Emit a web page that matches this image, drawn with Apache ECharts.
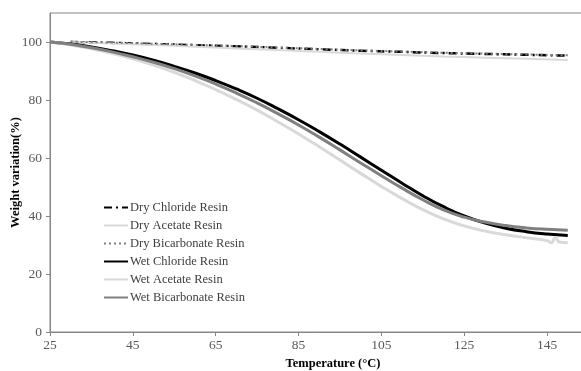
<!DOCTYPE html>
<html>
<head>
<meta charset="utf-8">
<script src="https://cdn.jsdelivr.net/npm/echarts@6/dist/echarts.min.js"></script>
<style>
  html, body { margin: 0; padding: 0; background: #fff; }
  #myEcharts { width: 581px; height: 371px; }
</style>
</head>
<body>
<div id="myEcharts"></div>
<script>
// dry samples (temperature, weight %)
const dryTemps = [30, 40, 50, 60, 70, 80, 90, 100, 110, 120, 130, 140, 150];
const dryChloride = [100, 99.7, 99.3, 98.9, 98.5, 98.0, 97.5, 97.0, 96.6, 96.2, 95.9, 95.6, 95.3];
const dryAcetate = [100, 99.5, 99.0, 98.4, 97.8, 97.2, 96.6, 96.0, 95.5, 95.0, 94.6, 94.2, 93.8];
const dryBicarbonate = [100.1, 99.8, 99.4, 99.0, 98.6, 98.1, 97.6, 97.1, 96.7, 96.3, 96.0, 95.7, 95.4];

// wet samples
const wetTemps = [25, 30, 35, 40, 45, 50, 55, 60, 65, 70, 75, 80, 85, 90, 95, 100, 105, 110, 115, 120, 125, 130, 135, 140, 145, 150];
const wetChloride = [100, 99.3, 98.3, 97, 95.5, 93.7, 91.6, 89.3, 86.7, 83.8, 80.6, 77, 73.2, 69.1, 64.8, 60.3, 55.8, 51.3, 47, 43.2, 40, 37.6, 35.8, 34.6, 33.8, 33.3];
const wetBicarbonate = [100, 99.2, 98.0, 96.6, 94.9, 93.0, 90.8, 88.3, 85.5, 82.4, 79.0, 75.3, 71.4, 67.2, 62.8, 58.3, 53.9, 49.6, 45.6, 42.1, 39.6, 37.9, 36.7, 35.9, 35.4, 35.1];
const wetAcetateTemps = [25, 30, 35, 40, 45, 50, 55, 60, 65, 70, 75, 80, 85, 90, 95, 100, 105, 110, 115, 120, 125, 130, 135, 140, 145, 146, 147, 148, 150];
const wetAcetate = [100, 99, 97.7, 96.1, 94.2, 92, 89.5, 86.7, 83.6, 80.2, 76.5, 72.5, 68.3, 63.9, 59.3, 54.7, 50.2, 46.0, 42.2, 39.0, 36.6, 34.8, 33.5, 32.5, 31.5, 30.8, 32.6, 31.0, 30.8];

const xTicks = { min: 25, max: 154.4, interval: 20 };
const yTicks = { min: 0, max: 110, interval: 20 };

function pairs(xs, ys) {
  return xs.map((x, i) => [x, ys[i]]);
}

const axisGrey = '#868686';
const labelGrey = '#595959';
const serif = '"Liberation Serif", "DejaVu Serif", serif';

function lineSeries(name, data, color, width, type) {
  return {
    name,
    type: 'line',
    symbol: 'none',
    showSymbol: false,
    smooth: true,
    data,
    itemStyle: { color },
    lineStyle: { color, width, type },
  };
}

const myEcharts = echarts.init(document.getElementById('myEcharts'));
myEcharts.setOption({
  animation: false,
  backgroundColor: '#fff',
  grid: {
    show: true,
    borderWidth: 1,
    borderColor: axisGrey,
    outerBoundsMode: 'none',
    containLabel: false,
    left: 50,
    top: 13,
    right: -5,
    bottom: 39,
  },
  legend: {
    orient: 'vertical',
    left: 103,
    top: 201,
    padding: 0,
    itemWidth: 24,
    itemHeight: 12,
    itemGap: 5,
    itemStyle: { opacity: 0 },
    textStyle: { fontFamily: serif, fontSize: 12.5, color: '#404040', padding: [0, 0, 0, -3] },
    data: ['Dry Chloride Resin', 'Dry Acetate Resin', 'Dry Bicarbonate Resin',
      'Wet Chloride Resin', 'Wet Acetate Resin', 'Wet Bicarbonate Resin'],
  },
  xAxis: {
    type: 'value',
    ...xTicks,
    name: 'Temperature (°C)',
    nameLocation: 'middle',
    nameGap: 25,
    nameTextStyle: { fontFamily: serif, fontSize: 12.5, fontWeight: 'bold', color: '#000', padding: [0, 0, 0, 30] },
    axisLine: { show: true, lineStyle: { color: axisGrey, width: 1 } },
    axisTick: { show: true, length: 4, lineStyle: { color: axisGrey } },
    axisLabel: { fontFamily: serif, fontSize: 13.5, color: labelGrey, margin: 6, showMaxLabel: false },
    splitLine: { show: false },
  },
  yAxis: {
    type: 'value',
    ...yTicks,
    name: 'Weight variation(%)',
    nameLocation: 'middle',
    nameGap: 28,
    nameMoveOverlap: false,
    nameTextStyle: { fontFamily: serif, fontSize: 12.5, fontWeight: 'bold', color: '#000' },
    axisLine: { show: true, lineStyle: { color: axisGrey, width: 1 } },
    axisTick: { show: true, length: 4, lineStyle: { color: axisGrey } },
    axisLabel: { fontFamily: serif, fontSize: 13.5, color: labelGrey, margin: 8, showMaxLabel: false },
    splitLine: { show: false },
  },
  series: [
    lineSeries('Dry Chloride Resin', pairs(dryTemps, dryChloride), '#000', 2.5, [8, 4, 2, 4]),
    lineSeries('Dry Acetate Resin', pairs(dryTemps, dryAcetate), '#d9d9d9', 2, 'solid'),
    lineSeries('Dry Bicarbonate Resin', pairs(dryTemps, dryBicarbonate), '#7f7f7f', 2, [2, 3]),
    lineSeries('Wet Chloride Resin', pairs(wetTemps, wetChloride), '#000', 3, 'solid'),
    lineSeries('Wet Acetate Resin', pairs(wetAcetateTemps, wetAcetate), '#d9d9d9', 3, 'solid'),
    lineSeries('Wet Bicarbonate Resin', pairs(wetTemps, wetBicarbonate), '#808080', 3, 'solid'),
  ],
});
</script>
</body>
</html>
